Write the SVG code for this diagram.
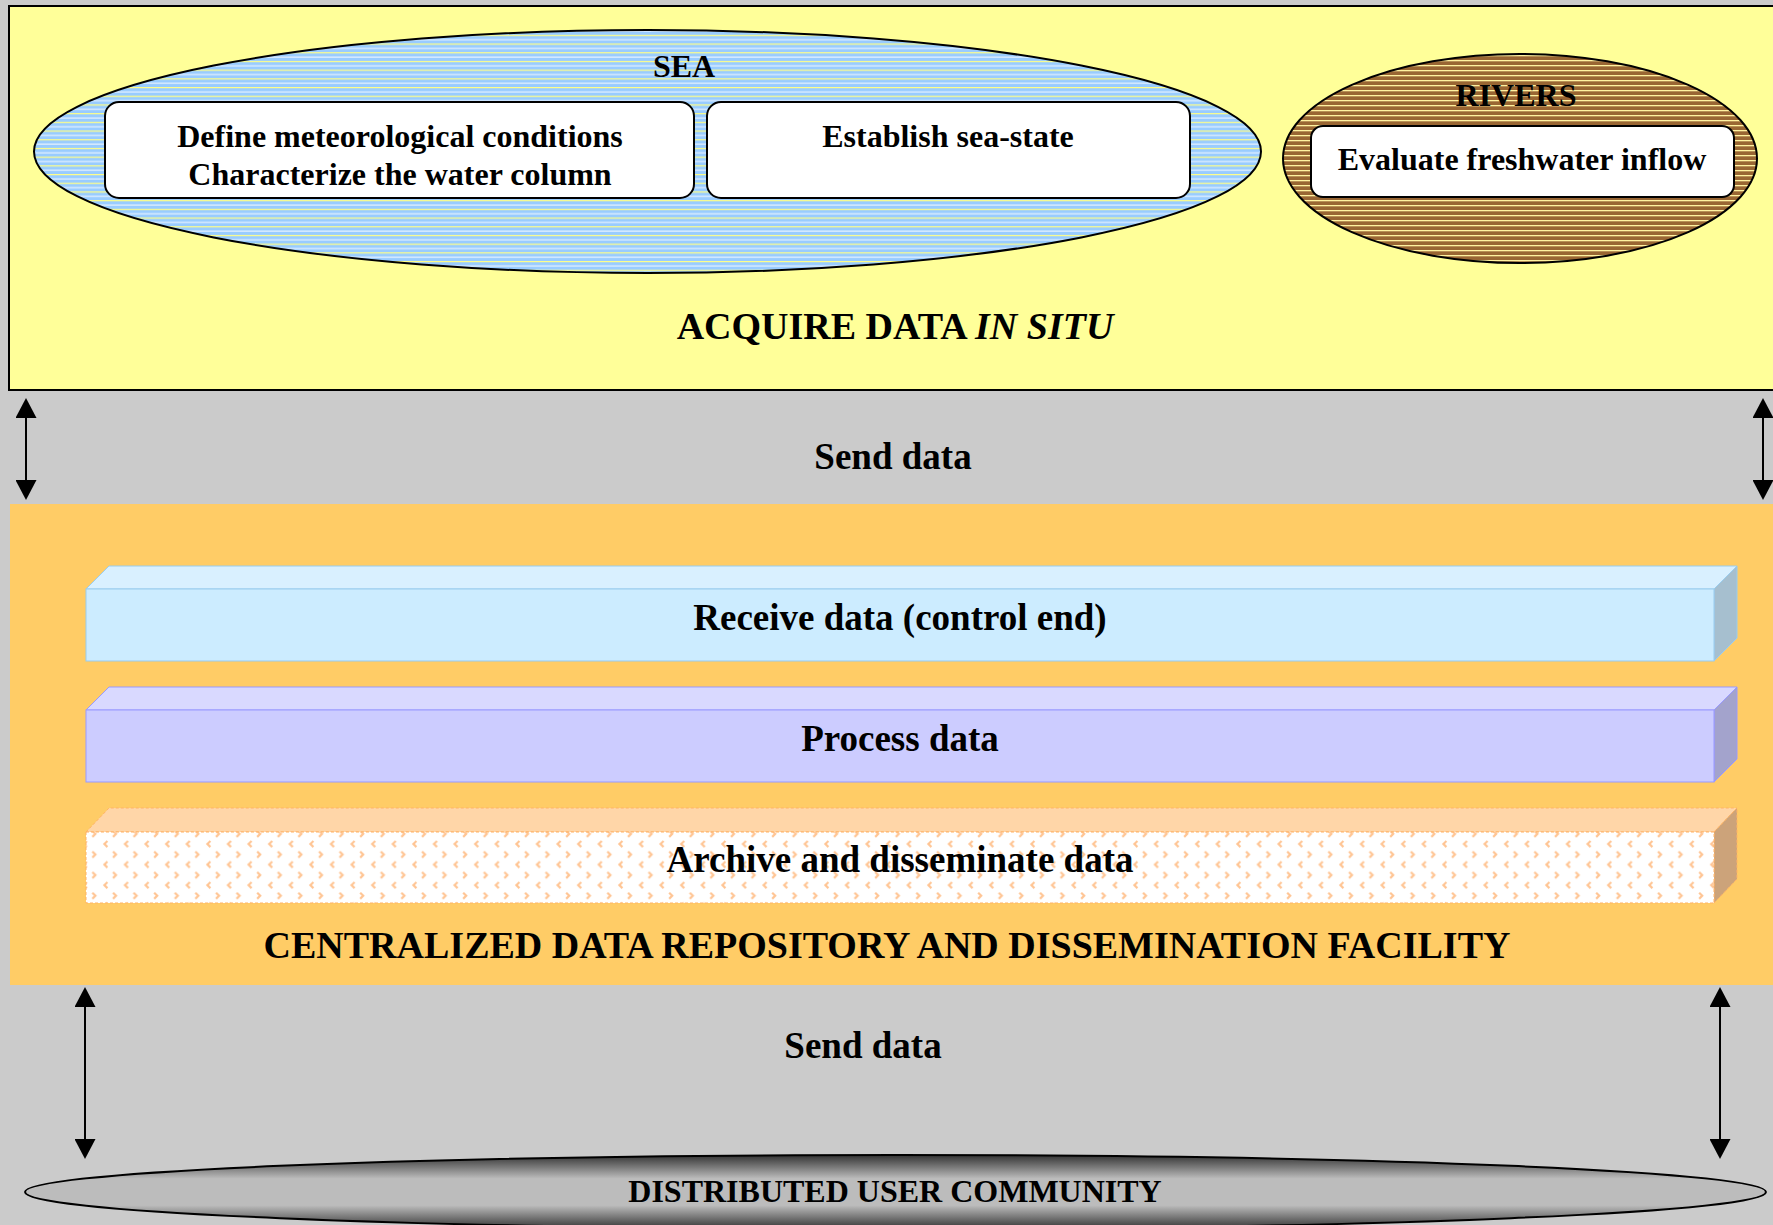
<svg xmlns="http://www.w3.org/2000/svg" width="1773" height="1225" viewBox="0 0 1773 1225">
<style>
text{font-family:"Liberation Serif","Times New Roman",serif;font-weight:bold;fill:#000;text-anchor:middle}
.t32{font-size:32px}
.t37{font-size:37px}
.t38{font-size:38px}
.box{fill:#fff;stroke:#000;stroke-width:2}
.conn{stroke:#000;stroke-width:2;fill:none;marker-start:url(#ah);marker-end:url(#ah)}
</style>
<defs>
<marker id="ah" viewBox="0 0 20 21" refX="18" refY="10.5" markerWidth="20" markerHeight="21" markerUnits="userSpaceOnUse" orient="auto-start-reverse">
<path d="M0,0 L20,10.5 L0,21 Z" fill="#000"/>
</marker>
<pattern id="seaP" width="16" height="8.7" patternUnits="userSpaceOnUse">
<rect width="16" height="8.7" fill="#99CCFF"/>
<rect y="0" width="16" height="1.2" fill="#FFFF88"/>
<rect y="4.35" width="16" height="1.2" fill="#E6F2FF"/>
</pattern>
<pattern id="rivP" width="16" height="5" patternUnits="userSpaceOnUse">
<rect width="16" height="5" fill="#996633"/>
<rect y="0" width="16" height="1.3" fill="#FFF2A0"/>
</pattern>
<pattern id="archP" x="105" y="840" width="20.6" height="20.6" patternUnits="userSpaceOnUse">
<rect width="20.6" height="20.6" fill="#fff"/>
<path d="M23,1 L20,4 L23,7 M2.4,1 L-0.6,4 L2.4,7" stroke="#FFC594" stroke-width="2.2" fill="none"/>
<path d="M8,11.5 L11,14.5 L8,17.5" stroke="#FFC594" stroke-width="2.2" fill="none"/>
</pattern>
<linearGradient id="userG" x1="0" y1="0" x2="0" y2="1">
<stop offset="0" stop-color="#333"/>
<stop offset="0.32" stop-color="#bcbcbc"/>
<stop offset="0.68" stop-color="#bcbcbc"/>
<stop offset="1" stop-color="#333"/>
</linearGradient>
</defs>
<rect width="1773" height="1225" fill="#CBCBCB"/>

<g id="acquire">
<rect x="9" y="6" width="1775" height="384" fill="#FFFF99" stroke="#000" stroke-width="2"/>
<text class="t38" x="895" y="339">ACQUIRE DATA <tspan font-style="italic">IN SITU</tspan></text>
</g>

<g id="sea">
<ellipse cx="647.5" cy="151.5" rx="613.5" ry="121.5" fill="url(#seaP)" stroke="#000" stroke-width="2"/>
<text class="t32" x="684" y="77">SEA</text>
</g>
<g id="meteo">
<rect class="box" x="105" y="102" width="589" height="96" rx="14"/>
<text class="t32" x="400" y="147">Define meteorological conditions</text>
<text class="t32" x="400" y="185">Characterize the water column</text>
</g>
<g id="seastate">
<rect class="box" x="707" y="102" width="483" height="96" rx="14"/>
<text class="t32" x="948" y="147">Establish sea-state</text>
</g>

<g id="rivers">
<ellipse cx="1520" cy="158.5" rx="237" ry="104.5" fill="url(#rivP)" stroke="#000" stroke-width="2"/>
<text class="t32" x="1516" y="106">RIVERS</text>
</g>
<g id="freshwater">
<rect class="box" x="1311" y="126" width="423" height="71" rx="12"/>
<text class="t32" x="1522" y="170">Evaluate freshwater inflow</text>
</g>

<g id="send1">
<text class="t37" x="893" y="469">Send data</text>
</g>

<g id="facility">
<rect x="10" y="504" width="1770" height="481" fill="#FFCC66"/>
<text class="t38" x="887" y="958">CENTRALIZED DATA REPOSITORY AND DISSEMINATION FACILITY</text>
</g>

<g id="receive">
<polygon points="86,589 109,566 1737,566 1714,589" fill="#D9F0FF" stroke="#99CCEE" stroke-width="1"/>
<polygon points="1714,589 1737,566 1737,638 1714,661" fill="#A6BFCF" stroke="#99CCEE" stroke-width="1"/>
<rect x="86" y="589" width="1628" height="72" fill="#CCECFF" stroke="#99CCEE" stroke-width="1"/>
<text class="t37" x="900" y="630">Receive data (control end)</text>
</g>

<g id="process">
<polygon points="86,710 109,687 1737,687 1714,710" fill="#D9D9FF" stroke="#9999FF" stroke-width="1"/>
<polygon points="1714,710 1737,687 1737,759 1714,782" fill="#A3A3CC" stroke="#9999FF" stroke-width="1"/>
<rect x="86" y="710" width="1628" height="72" fill="#CCCCFF" stroke="#9999FF" stroke-width="1"/>
<text class="t37" x="900" y="751">Process data</text>
</g>

<g id="archive">
<polygon points="86,832 109,808 1737,808 1714,832" fill="#FFD6A8" stroke="#FFB366" stroke-width="1" stroke-dasharray="3,2"/>
<polygon points="1714,832 1737,808 1737,879 1714,903" fill="#CCA37A" stroke="#FFB366" stroke-width="1" stroke-dasharray="3,2"/>
<rect x="86" y="832" width="1628" height="71" fill="url(#archP)" stroke="#FFB366" stroke-width="1" stroke-dasharray="3,2"/>
<text class="t37" x="900" y="872">Archive and disseminate data</text>
</g>

<g id="send2">
<text class="t37" x="863" y="1058">Send data</text>
</g>

<g id="users">
<ellipse cx="895.5" cy="1192" rx="870.5" ry="37" fill="url(#userG)" stroke="#000" stroke-width="2"/>
<text class="t32" x="895" y="1202">DISTRIBUTED USER COMMUNITY</text>
</g>

<g id="connectors">
<line class="conn" x1="26" y1="400" x2="26" y2="498"/>
<line class="conn" x1="1763" y1="400" x2="1763" y2="498"/>
<line class="conn" x1="85" y1="989" x2="85" y2="1157"/>
<line class="conn" x1="1720" y1="989" x2="1720" y2="1157"/>
</g>
</svg>
